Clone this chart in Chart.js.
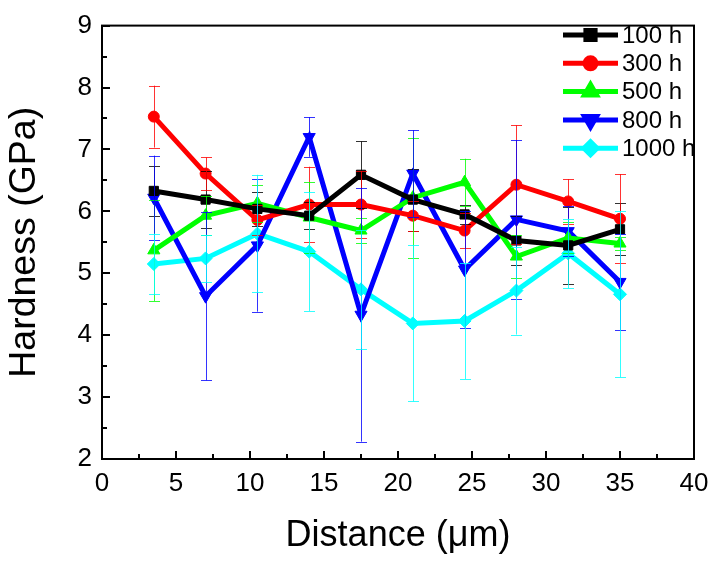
<!DOCTYPE html>
<html>
<head>
<meta charset="utf-8">
<script src="https://cdn.jsdelivr.net/npm/chart.js@4.4.0/dist/chart.umd.min.js"></script>
<style>
  html, body { margin: 0; padding: 0; background: #fff; }
  canvas { display: block; }
</style>
</head>
<body>
<canvas id="hardnessChart" width="719" height="563"></canvas>
<script>
// Distance positions (um)
const distance = [3.5, 7, 10.5, 14, 17.5, 21, 24.5, 28, 31.5, 35];

// Hardness (GPa) and error for each aging time
const h100 = [6.33, 6.19, 6.04, 5.93, 6.59, 6.19, 5.95, 5.53, 5.45, 5.71];
const e100 = [0.40, 0.46, 0.28, 0.22, 0.54, 0.50, 0.15, 0.40, 0.62, 0.42];
const h300 = [7.53, 6.61, 5.86, 6.11, 6.11, 5.93, 5.69, 6.43, 6.16, 5.88];
const e300 = [0.50, 0.26, 0.25, 0.61, 0.54, 0.24, 0.29, 0.96, 0.36, 0.72];
const h500 = [5.37, 5.93, 6.13, 5.90, 5.69, 6.22, 6.47, 5.27, 5.57, 5.48];
const e500 = [0.82, 0.32, 0.30, 0.57, 0.20, 0.97, 0.38, 0.35, 0.25, 0.10];
const h800 = [6.22, 4.63, 5.45, 7.20, 4.33, 6.61, 5.06, 5.87, 5.68, 4.86];
const e800 = [0.68, 1.36, 1.07, 0.32, 2.05, 0.70, 0.95, 1.28, 0.40, 0.78];
const h1000 = [5.15, 5.24, 5.64, 5.35, 4.74, 4.19, 4.23, 4.72, 5.32, 4.66];
const e1000 = [0.49, 0.38, 0.95, 0.96, 0.96, 1.26, 0.94, 0.71, 0.56, 1.34];

const seriesLabels = ["100 h", "300 h", "500 h", "800 h", "1000 h"];
const xTicks = [0, 5, 10, 15, 20, 25, 30, 35, 40];
const yTicks = [2, 3, 4, 5, 6, 7, 8, 9];

const FONT = "'Liberation Sans', Arial, sans-serif";

function makeSet(label, values, errors, color, style, rotation, radius) {
  return {
    label: label,
    data: distance.map((d, i) => ({ x: d, y: values[i] })),
    errors: errors,
    borderColor: color,
    backgroundColor: color,
    borderWidth: 5,
    pointStyle: style,
    pointRotation: rotation,
    pointRadius: radius,
    pointBackgroundColor: color,
    pointBorderColor: color,
    pointBorderWidth: 1,
    tension: 0
  };
}

// frame, inward ticks, error bars and legend
const decorations = {
  id: "decorations",
  afterDatasetsDraw(chart) {
    const ctx = chart.ctx;
    const xs = chart.scales.x;
    const ys = chart.scales.y;
    const area = chart.chartArea;

    // error bars
    chart.data.datasets.forEach((ds) => {
      ctx.save();
      ctx.strokeStyle = ds.borderColor;
      ctx.globalAlpha = 0.8;
      ctx.lineWidth = 1;
      ds.data.forEach((p, i) => {
        const px = Math.round(xs.getPixelForValue(p.x)) + 0.5;
        const top = ys.getPixelForValue(p.y + ds.errors[i]);
        const bot = ys.getPixelForValue(p.y - ds.errors[i]);
        ctx.beginPath();
        ctx.moveTo(px, top);
        ctx.lineTo(px, bot);
        ctx.moveTo(px - 5.5, Math.round(top) + 0.5);
        ctx.lineTo(px + 5.5, Math.round(top) + 0.5);
        ctx.moveTo(px - 5.5, Math.round(bot) + 0.5);
        ctx.lineTo(px + 5.5, Math.round(bot) + 0.5);
        ctx.stroke();
      });
      ctx.restore();
    });

    // frame
    ctx.save();
    ctx.strokeStyle = "#000";
    ctx.lineWidth = 2;
    ctx.strokeRect(area.left, area.top, area.right - area.left, area.bottom - area.top);

    // inward ticks
    ctx.beginPath();
    for (let v = 0; v <= 40; v += 2.5) {
      const px = Math.round(xs.getPixelForValue(v));
      const len = v % 5 === 0 ? 8 : 5;
      ctx.moveTo(px, area.bottom);
      ctx.lineTo(px, area.bottom - len);
    }
    for (let v = 2; v <= 9; v += 0.5) {
      const py = Math.round(ys.getPixelForValue(v));
      const len = v % 1 === 0 ? 8 : 5;
      ctx.moveTo(area.left, py);
      ctx.lineTo(area.left + len, py);
    }
    ctx.stroke();

    // legend
    const lx0 = 563, lx1 = 618, ly0 = 35, step = 28.3;
    ctx.font = "24px " + FONT;
    ctx.textBaseline = "middle";
    ctx.textAlign = "left";
    chart.data.datasets.forEach((ds, i) => {
      const y = ly0 + i * step;
      ctx.strokeStyle = ds.borderColor;
      ctx.lineWidth = 5;
      ctx.beginPath();
      ctx.moveTo(lx0, y);
      ctx.lineTo(lx1, y);
      ctx.stroke();
      ctx.fillStyle = ds.borderColor;
      Chart.helpers.drawPoint(ctx, {
        pointStyle: ds.pointStyle,
        rotation: ds.pointRotation,
        radius: ds.pointRadius,
        borderWidth: 1
      }, (lx0 + lx1) / 2, y);
      ctx.fillStyle = "#000";
      ctx.fillText(ds.label, 622, y + 1);
    });
    ctx.restore();
  }
};

const ctx = document.getElementById("hardnessChart").getContext("2d");

const hardnessChart = new Chart(ctx, {
  type: "line",
  data: {
    datasets: [
      makeSet(seriesLabels[0], h100, e100, "#000000", "rect", 0, 6.5),
      makeSet(seriesLabels[1], h300, e300, "#ff0000", "circle", 0, 5.5),
      makeSet(seriesLabels[2], h500, e500, "#00ff00", "triangle", 0, 7),
      makeSet(seriesLabels[3], h800, e800, "#0000ff", "triangle", 180, 7),
      makeSet(seriesLabels[4], h1000, e1000, "#00ffff", "rectRot", 0, 6.5)
    ]
  },
  options: {
    responsive: false,
    animation: false,
    devicePixelRatio: 1,
    layout: { padding: { top: 18, right: 25, left: 0, bottom: 0 } },
    plugins: {
      legend: { display: false },
      tooltip: { enabled: false }
    },
    scales: {
      x: {
        type: "linear",
        min: 0,
        max: 40,
        afterFit: (s) => { s.height = 104; },
        afterBuildTicks: (s) => { s.ticks = xTicks.map((v) => ({ value: v })); },
        grid: { display: false, drawTicks: false },
        border: { display: false },
        ticks: { color: "#000", padding: 9, maxRotation: 0, font: { family: FONT, size: 26 } },
        title: {
          display: true,
          text: "Distance (\u03bcm)",
          color: "#000",
          font: { family: FONT, size: 36 },
          padding: { top: 0, bottom: 5 }
        }
      },
      y: {
        min: 2,
        max: 9,
        afterFit: (s) => { s.width = 102; },
        afterBuildTicks: (s) => { s.ticks = yTicks.map((v) => ({ value: v })); },
        grid: { display: false, drawTicks: false },
        border: { display: false },
        ticks: { color: "#000", padding: 10, font: { family: FONT, size: 26 } },
        title: {
          display: true,
          text: "Hardness (GPa)",
          color: "#000",
          font: { family: FONT, size: 37.5 },
          padding: { top: 2, bottom: 0 }
        }
      }
    }
  },
  plugins: [decorations]
});
</script>
</body>
</html>
